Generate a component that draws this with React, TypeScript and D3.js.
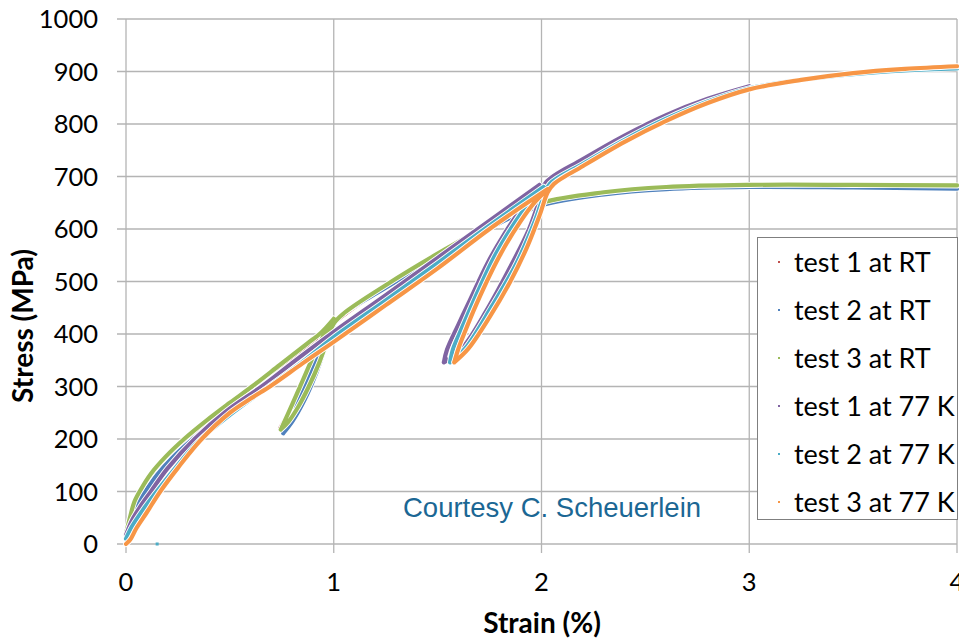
import React from "react";
import * as d3 from "d3";

type Pt = [number, number];

const xTicks = [0, 1, 2, 3, 4];
const yTicks = [0, 100, 200, 300, 400, 500, 600, 700, 800, 900, 1000];

const seriesNames = [
  "test 1 at RT",
  "test 2 at RT",
  "test 3 at RT",
  "test 1 at 77 K",
  "test 2 at 77 K",
  "test 3 at 77 K",
];
const seriesColors = ["#C0504D", "#4F81BD", "#9BBB59", "#8064A2", "#4BACC6", "#F79646"];

// [strain %, stress MPa]
const test1RT: Pt[] = [
  [0, 16], [0.02, 46], [0.05, 78], [0.09, 106], [0.14, 135], [0.21, 166], [0.3, 199],
  [0.41, 234], [0.52, 267], [0.63, 300], [0.76, 339], [0.89, 378], [0.95, 398], [1.0, 425],
  [0.95, 392], [0.9, 352], [0.85, 308], [0.8, 264], [0.742, 220],
  [0.78, 234], [0.83, 265], [0.88, 303], [0.93, 348], [0.97, 390], [1.0, 419], [1.05, 437],
  [1.25, 490], [1.5, 550], [1.75, 605], [2.0, 647], [2.3, 668], [2.6, 678], [3.0, 682],
  [3.5, 682], [4.0, 681],
];
const test2RT: Pt[] = [
  [0, 13], [0.02, 42], [0.05, 74], [0.1, 104], [0.15, 132], [0.22, 163], [0.31, 196],
  [0.42, 231], [0.53, 264], [0.64, 297], [0.77, 336], [0.9, 375], [0.96, 395], [1.0, 422],
  [0.96, 390], [0.91, 348], [0.86, 302], [0.81, 256], [0.757, 211],
  [0.8, 233], [0.86, 275], [0.91, 320], [0.95, 364], [0.985, 403], [1.02, 430],
  [1.25, 488], [1.5, 547], [1.75, 602], [2.0, 645], [2.3, 666], [2.6, 676], [3.0, 680],
  [3.5, 679], [4.0, 677],
];
const test3RT: Pt[] = [
  [0, 20], [0.02, 52], [0.04, 80], [0.07, 103], [0.12, 134], [0.19, 166], [0.28, 200],
  [0.39, 236], [0.5, 269], [0.61, 301], [0.74, 341], [0.87, 381], [0.94, 403], [1.0, 429],
  [0.95, 396], [0.9, 356], [0.85, 311], [0.8, 266], [0.745, 218],
  [0.78, 232], [0.83, 262], [0.88, 300], [0.93, 345], [0.97, 389], [1.0, 420], [1.05, 440],
  [1.25, 493], [1.5, 553], [1.75, 608], [2.0, 650], [2.3, 670], [2.6, 680], [3.0, 684],
  [3.5, 684], [4.0, 683],
];
const test1LN2: Pt[] = [
  [0, 17], [0.03, 46], [0.07, 72], [0.12, 100], [0.2, 144], [0.33, 200], [0.48, 252],
  [0.66, 302], [0.83, 354], [1.0, 404], [1.25, 474], [1.5, 545], [1.75, 616], [1.99, 684],
  [1.945, 660], [1.9, 637], [1.82, 590], [1.74, 535], [1.656, 465], [1.6, 418], [1.545, 370],
  [1.53, 346],
  [1.616, 372], [1.737, 446], [1.85, 528], [1.94, 600], [1.99, 655], [2.02, 688],
  [2.2, 733], [2.4, 778], [2.6, 817], [2.8, 848], [3.0, 872],
];
const test2LN2: Pt[] = [
  [0, 10], [0.03, 34], [0.08, 64], [0.14, 96], [0.23, 141], [0.35, 196], [0.5, 246],
  [0.68, 298], [0.85, 347], [1.0, 394], [1.25, 464], [1.5, 535], [1.75, 607], [2.01, 680],
  [1.94, 650], [1.86, 605], [1.77, 545], [1.67, 460], [1.61, 405], [1.575, 372],
  [1.56, 346],
  [1.632, 372], [1.76, 452], [1.88, 535], [1.97, 617], [2.01, 662], [2.04, 686],
  [2.2, 724], [2.4, 770], [2.6, 810], [2.8, 843], [3.0, 868], [3.25, 884], [3.5, 895],
  [3.75, 902], [4.0, 906],
];
const test3LN2: Pt[] = [
  [0, 0], [0.02, 8], [0.05, 30], [0.1, 60], [0.165, 100], [0.25, 145], [0.36, 198],
  [0.5, 250], [0.6, 277], [0.7, 302], [0.85, 344], [1.0, 385], [1.25, 455], [1.5, 525],
  [1.75, 600], [2.03, 676],
  [1.97, 652], [1.9, 615], [1.8, 550], [1.688, 458], [1.625, 398], [1.6, 372],
  [1.58, 346],
  [1.648, 372], [1.75, 432], [1.85, 500], [1.93, 565], [1.99, 625], [2.03, 670], [2.06, 686],
  [2.2, 720], [2.4, 766], [2.6, 806], [2.8, 840], [3.0, 866], [3.25, 884], [3.5, 897],
  [3.75, 905], [4.0, 910],
];
const strayPoints: Pt[] = [[0.15, 0]];

const seriesData = [test1RT, test2RT, test3RT, test1LN2, test2LN2, test3LN2];

const W = 959;
const H = 641;
const left = 126;
const right = 957;
const top = 19;
const bottom = 544;

// split a path into runs where stress keeps one direction, so that
// turning points (peaks / unloading minima) stay sharp
function splitRuns(pts: Pt[]): Pt[][] {
  const runs: Pt[][] = [];
  let cur: Pt[] = [pts[0]];
  let dir = 0;
  for (let i = 1; i < pts.length; i++) {
    const dy = pts[i][1] - pts[i - 1][1];
    const nd = dy > 0 ? 1 : dy < 0 ? -1 : dir;
    if (dir !== 0 && nd !== dir && Math.abs(dy) > 4) {
      runs.push(cur);
      cur = [pts[i - 1]];
    }
    if (Math.abs(dy) > 4 || dir === 0) dir = nd;
    cur.push(pts[i]);
  }
  runs.push(cur);
  return runs;
}

export default function App() {
  const x = d3.scaleLinear().domain([0, 4]).range([left, right]);
  const y = d3.scaleLinear().domain([0, 1000]).range([bottom, top]);
  const line = d3
    .line<Pt>()
    .x((d) => x(d[0]))
    .y((d) => y(d[1]))
    .curve(d3.curveCatmullRom.alpha(0.5));

  const grid = "#b4b4b4";
  const font = "Lato, 'Open Sans', sans-serif";

  const paths = seriesData.map((d) =>
    splitRuns(d)
      .map((r) => line(r) || "")
      .join("")
  );

  return (
    <svg
      width={W}
      height={H}
      style={{ position: "absolute", left: 0, top: 0, background: "#fff" }}
    >
      <rect x={0} y={0} width={W} height={H} fill="#fff" />
      {/* grid */}
      {yTicks.map((t) => (
        <line key={"gy" + t} x1={left - 9} x2={right} y1={y(t)} y2={y(t)} stroke={grid} strokeWidth={1.3} />
      ))}
      {xTicks.map((t) => (
        <line key={"gx" + t} x1={x(t)} x2={x(t)} y1={top} y2={bottom + 9} stroke={grid} strokeWidth={1.3} />
      ))}
      {/* tick labels */}
      {yTicks.map((t) => (
        <text
          key={"ly" + t}
          x={98}
          y={y(t)}
          dy="0.36em"
          textAnchor="end"
          fontFamily={font}
          fontSize={25.5}
          fill="#000"
        >
          {t}
        </text>
      ))}
      {xTicks.map((t) => (
        <text
          key={"lx" + t}
          x={x(t)}
          y={591}
          textAnchor="middle"
          fontFamily={font}
          fontSize={25.5}
          fill="#000"
        >
          {t}
        </text>
      ))}
      {/* axis titles */}
      <text
        x={542}
        y={633}
        textAnchor="middle"
        fontFamily={font}
        fontWeight="bold"
        fontSize={28}
        fill="#000"
      >
        Strain (%)
      </text>
      <text
        transform={`translate(33, 403) rotate(-90)`}
        textAnchor="start"
        fontFamily={font}
        fontWeight="bold"
        fontSize={28}
        fill="#000"
      >
        Stress (MPa)
      </text>
      {/* series */}
      {paths.map((p, i) => (
        <g key={"s" + i}>
          <path d={p} fill="none" stroke="#fff" strokeWidth={6} strokeLinejoin="round" strokeLinecap="round" />
          <path d={p} fill="none" stroke={seriesColors[i]} strokeWidth={4.2} strokeLinejoin="round" strokeLinecap="round" />
        </g>
      ))}
      {strayPoints.map((p, i) => (
        <rect key={"st" + i} x={x(p[0]) - 1.5} y={y(p[1]) - 1.5} width={3} height={3} fill={seriesColors[4]} />
      ))}
      {/* annotation */}
      <text x={403} y={517} fontFamily="'Liberation Sans', Arial, sans-serif" fontSize={27.5} fill="#1B6794">
        Courtesy C. Scheuerlein
      </text>
      {/* legend */}
      <rect x={757.5} y={237.5} width={200} height={282} fill="#fff" stroke="#7f7f7f" strokeWidth={1} />
      {seriesNames.map((n, i) => (
        <g key={"lg" + i} transform={`translate(0, ${262 + i * 48})`}>
          <rect x={778} y={-1} width={2} height={2} fill={seriesColors[i]} />
          <text x={794} y={0} dy="0.36em" fontFamily={font} fontSize={27} fill="#000">
            {n}
          </text>
        </g>
      ))}
    </svg>
  );
}
